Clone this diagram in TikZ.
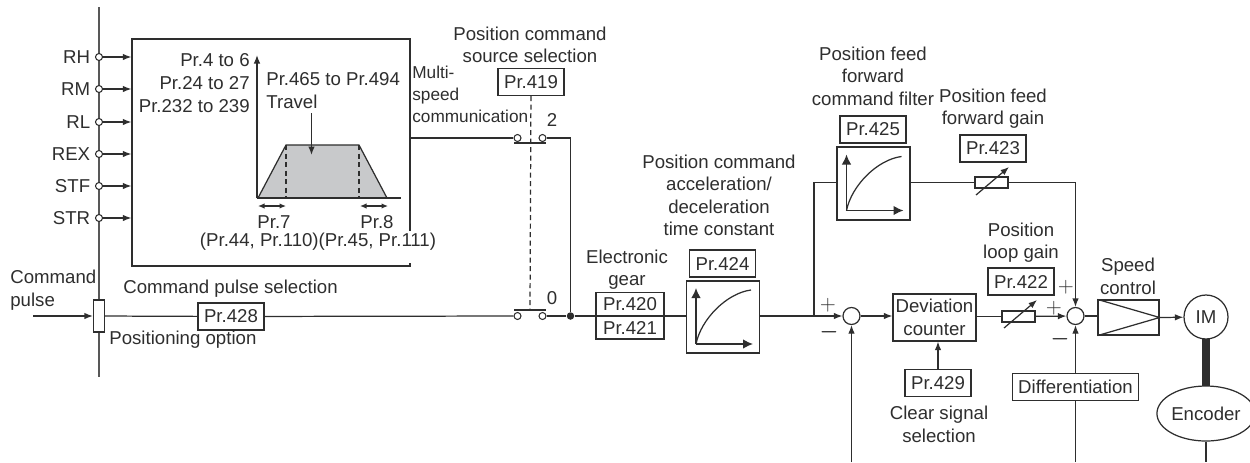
\documentclass[tikz,border=0pt]{standalone}
\usepackage{fontspec}
\setmainfont{Liberation Sans}
\usetikzlibrary{arrows.meta,shapes.geometric}
\definecolor{ink}{HTML}{2E2E2E}
\definecolor{trapgray}{HTML}{C8C9CB}
\def\busx{99}
\def\railtop{138}
\def\railmid{316}
\def\swl{517.5}
\def\swr{542.5}
\def\drawgraph#1{\begin{scope}[shift={(#1.center)}]
		\draw[axis] (-27,27) -- (-27,-29);
		\draw[axis] (-27,27) -- (30,27);
		\draw[p] (-27,27) .. controls (-22,2) and (4,-24) .. (28,-27);
	\end{scope}}

\begin{document}
\begin{tikzpicture}[x=0.2mm,y=-0.2mm,color=ink,
		font=\fontsize{10.6}{12.75}\selectfont,
		p/.style={line width=0.7pt,draw=ink},
		bus/.style={line width=1pt,draw=ink!80},
		w/.style={-{Latex[length=1.7mm,width=1.3mm]},line width=0.7pt,draw=ink},
		axis/.style={-{Latex[length=2mm,width=1.9mm]},line width=0.8pt,draw=ink},
		both/.style={{Latex[length=1.3mm,width=1.1mm]}-{Latex[length=1.3mm,width=1.1mm]},line width=0.7pt,draw=ink},
		blk/.style={draw=ink,line width=0.7pt,fill=white,inner sep=0pt},
		pr/.style={blk,minimum width=13.2mm,minimum height=5.4mm},
		port/.style={circle,draw=ink,line width=0.6pt,fill=white,inner sep=0pt,minimum size=1.4mm},
		sumpt/.style={circle,draw=ink,line width=0.7pt,fill=white,inner sep=0pt,minimum size=3.4mm},
		dot/.style={circle,fill=ink,inner sep=0pt,minimum size=1.5mm},
		dsh/.style={p,dash pattern=on 1mm off 0.7mm},
		lbl/.style={inner sep=0pt,align=center},
		plussgn/.style={inner sep=0pt,font=\fontsize{12}{12}\selectfont},
		minussgn/.style={inner sep=0pt,font=\fontsize{13}{13}\selectfont\boldmath}]
	\useasboundingbox (0,0) rectangle (1250,462);
	
	% ============ input side ============
	\coordinate (bustop) at (\busx,7);
	\coordinate (busbot) at (\busx,377);
	\draw[bus] (bustop) -- (busbot);
	\node[blk,minimum width=55.6mm,minimum height=45.4mm] (multi) at (271,152.5) {};
	\foreach \nm/\yy in {RH/57,RM/89,RL/122,REX/154,STF/186,STR/218} {
		\node[port] (in\nm) at (\busx,\yy) {};
		\node[lbl,anchor=east] (lbl\nm) at (90.5,\yy) {\nm};
		\draw[w] (in\nm) -- (in\nm -| multi.west);
	}
	
	% ============ multi-speed box contents ============
	\node[lbl,anchor=east] (prfour) at (250,60) {Pr.4 to 6};
	\node[lbl,anchor=east] (prtwenty) at (250,83) {Pr.24 to 27};
	\node[lbl,anchor=east] (prtwothree) at (250,106) {Pr.232 to 239};
	\node[lbl,anchor=west] (prtravel) at (266,79) {Pr.465 to Pr.494};
	\node[lbl,anchor=west] (travel) at (266,102) {Travel};
	\filldraw[p,fill=trapgray] (258,198) -- (286,145) -- (359,145) -- (387,198) -- cycle;
	\draw[dsh] (286,145) -- (286,198);
	\draw[dsh] (359,145) -- (359,198);
	\draw[w] (257,198) -- (257,55);
	\draw[p] (257,198) -- (401,198);
	\draw[w] (311.5,113) -- (311.5,155);
	\draw[both] (258,206) -- (286,206);
	\draw[both] (360,206) -- (388,206);
	\node[lbl] (prseven) at (274,222) {Pr.7};
	\node[lbl] (preight) at (377,222) {Pr.8};
	% text runs over the box edge, edge is broken there
	\coordinate (gaptop) at (410,231);
	\coordinate (gapbot) at (410,263);
	\draw[draw=white,line width=1.6pt] (gaptop) -- (gapbot);
	\node[lbl] (prdecel) at (318,242) {(Pr.44, Pr.110)(Pr.45, Pr.111)};
	\node[lbl,anchor=west,align=left,font=\fontsize{9.8}{12.5}\selectfont] (multilbl) at (412,94) {Multi-\\speed\\communication};
	
	% ============ command pulse ============
	\node[lbl,anchor=west,align=left] (cmdlbl) at (10,290) {Command\\pulse};
	\node[blk,minimum width=2.2mm,minimum height=6.4mm] (posopt) at (\busx,316) {};
	\coordinate (cmdin) at (33,316);
	\draw[w] (cmdin) -- (posopt);
	\node[lbl] (cmdsel) at (230.5,289) {Command pulse selection};
	\node[lbl,anchor=west] (posoptlbl) at (109,340) {Positioning option};
	\node[pr] (prpulse) at (231,316.5) {Pr.428};
	
	% ============ source selection switch ============
	\node[lbl] (srclbl) at (530,45) {Position command\\source selection};
	\node[pr] (prsrc) at (531,82) {Pr.419};
	\node[port] (swtopl) at (\swl,\railtop) {};
	\node[port] (swtopr) at (\swr,\railtop) {};
	\node[port] (swbotl) at (\swl,\railmid) {};
	\node[port] (swbotr) at (\swr,\railmid) {};
	\node[lbl] (lbltwo) at (552,120) {2};
	\node[lbl] (lblzero) at (552,298) {0};
	\node[dot] (join) at (570.5,\railmid) {};
	\coordinate (swdash) at (530,310);
	\draw[dsh] (prsrc) -- (swdash);
	\coordinate (bartopl) at (514,143);
	\coordinate (bartopr) at (546,143);
	\coordinate (barbotl) at (514,310);
	\coordinate (barbotr) at (546,310);
	\draw[p] (bartopl) -- (bartopr);
	\draw[p] (barbotl) -- (barbotr);
	\draw[p] (multi.east |- swtopl) -- (swtopl);
	\draw[p] (swtopr) -| (join);
	\draw[p] (posopt) -- (prpulse);
	\draw[p] (prpulse) -- (swbotl);
	\draw[p] (swbotr) -- (join);
	
	% ============ gear and acceleration filter ============
	\node[lbl] (gearlbl) at (627,269.5) {Electronic\\gear};
	\node[blk,minimum width=14.6mm,minimum height=14.4mm] (acc) at (723,317) {};
	\draw[p] (join) -- (acc.west |- join);
	\node[blk,minimum width=13.6mm,minimum height=4.7mm] (prgeara) at (630,304.5) {Pr.420};
	\node[blk,minimum width=13.6mm,minimum height=4.6mm] (prgearb) at (630,327.5) {Pr.421};
	\node[lbl] (acclbl) at (719,195.5) {Position command\\acceleration/\\deceleration\\time constant};
	\node[pr] (pracc) at (722.5,263.5) {Pr.424};
	\drawgraph{acc}
	\node[sumpt] (sumone) at (851.5,\railmid) {};
	\draw[w] (acc.east |- sumone) -- (sumone);
	\node[plussgn] (plusa) at (828,305) {$+$};
	\node[minussgn] (minusa) at (829,332) {$-$};
	
	% ============ feed forward branch ============
	\coordinate (branch) at (814,\railmid);
	\node[lbl] (fflbl) at (873,76) {Position feed\\forward\\command filter};
	\node[pr] (prff) at (873,129.5) {Pr.425};
	\node[blk,minimum width=14.6mm,minimum height=14.6mm] (ff) at (873.5,183.5) {};
	\drawgraph{ff}
	\node[lbl] (gainlbl) at (993,108.5) {Position feed\\forward gain};
	\node[pr] (prgain) at (993,148.5) {Pr.423};
	\node[blk,minimum width=6.6mm,minimum height=2.2mm] (resff) at (991.5,182.5) {};
	\node[sumpt] (sumtwo) at (1075.5,\railmid) {};
	\draw[p] (branch) |- (ff.west |- resff);
	\draw[p] (ff.east |- resff) -- (resff);
	\coordinate (resffa) at (976,195);
	\coordinate (resffb) at (1009,167);
	\draw[w] (resffa) -- (resffb);
	\draw[w] (resff) -| (sumtwo);
	
	% ============ position loop ============
	\node[blk,align=center,minimum width=16.6mm,minimum height=9.4mm] (devcnt) at (934.5,317.5) {Deviation\\counter};
	\node[pr] (prclr) at (938,383) {Pr.429};
	\node[lbl] (clrlbl) at (939,424.5) {Clear signal\\selection};
	\draw[w] (sumone) -- (devcnt.west |- sumone);
	\draw[w] (prclr) -- (devcnt.south -| prclr);
	\node[lbl] (looplbl) at (1021,242.5) {Position\\loop gain};
	\node[pr] (prloop) at (1021,281.5) {Pr.422};
	\node[blk,minimum width=6.6mm,minimum height=2.2mm] (resloop) at (1018.5,316.5) {};
	\draw[p] (devcnt.east |- resloop) -- (resloop);
	\draw[w] (resloop) -- (sumtwo);
	\coordinate (resloopa) at (1004,328);
	\coordinate (resloopb) at (1037,300);
	\draw[w] (resloopa) -- (resloopb);
	\node[plussgn] (plusb) at (1066,287) {$+$};
	\node[plussgn] (plusc) at (1054,308) {$+$};
	\node[minussgn] (minusb) at (1060,339) {$-$};
	
	% ============ speed control and motor ============
	\node[lbl] (spdlbl) at (1128,276.5) {Speed\\control};
	\node[blk,minimum width=12.2mm,minimum height=7mm] (spd) at (1128.5,317.5) {};
	\draw[p] (spd.north west) -- (spd.east) -- (spd.south west);
	\draw[p] (sumtwo) -- (spd.west |- sumtwo);
	\node[circle,draw=ink,line width=0.7pt,inner sep=0pt,minimum size=8.8mm] (motor) at (1206,317) {IM};
	\draw[w] (spd.east) -- (motor);
	\node[ellipse,draw=ink,line width=0.7pt,inner sep=0pt,minimum width=17.6mm,minimum height=11mm] (enc) at (1206,413.5) {Encoder};
	\draw[line width=1.6mm,draw=ink,shorten <=-0.6pt,shorten >=-0.6pt] (motor) -- (enc);
	\coordinate (encout) at (1206,462);
	\draw[p] (enc) -- (encout);
	
	% ============ feedback ============
	\node[blk,minimum width=25.2mm,minimum height=5.4mm] (diff) at (1075.5,387) {Differentiation};
	\coordinate (fbone) at (851.5,462);
	\coordinate (fbtwo) at (1075.5,462);
	\draw[w] (fbone) -- (sumone);
	\draw[p] (fbtwo) -- (diff);
	\draw[w] (diff) -- (sumtwo);
\end{tikzpicture}
\end{document}
